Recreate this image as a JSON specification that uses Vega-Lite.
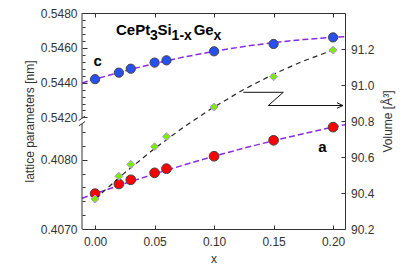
{
  "$schema": "https://vega.github.io/schema/vega-lite/v6.json",
  "width": 263,
  "height": 216,
  "autosize": {"type": "none"},
  "padding": {"left": 82, "top": 13, "right": 64, "bottom": 44},
  "background": "white",
  "config": {
    "view": {"stroke": null},
    "font": "Liberation Sans",
    "axis": {
      "labelFont": "Liberation Sans",
      "titleFont": "Liberation Sans",
      "labelFontSize": 12,
      "titleFontSize": 12,
      "labelColor": "#333",
      "titleColor": "#333",
      "titleFontWeight": "normal",
      "domainColor": "#333",
      "tickColor": "#333",
      "grid": false
    }
  },
  "datasets": {
    "pts": [
      {"x": 0.0, "c": 0.5442, "a": 0.40751, "v": 90.367},
      {"x": 0.02, "c": 0.54457, "a": 0.40765, "v": 90.493},
      {"x": 0.03, "c": 0.5448, "a": 0.40771, "v": 90.559},
      {"x": 0.05, "c": 0.54515, "a": 0.40781, "v": 90.657},
      {"x": 0.06, "c": 0.54528, "a": 0.40787, "v": 90.713},
      {"x": 0.1, "c": 0.5458, "a": 0.40805, "v": 90.878},
      {"x": 0.15, "c": 0.54622, "a": 0.40828, "v": 91.046},
      {"x": 0.2, "c": 0.5466, "a": 0.40847, "v": 91.194}
    ],
    "fit": [
      {"x": -0.011, "cf": 0.543975, "af": 0.407443, "vf": null},
      {"x": 0.0, "cf": 0.5442, "af": 0.40751, "vf": 90.367},
      {"x": 0.025, "cf": 0.544675, "af": 0.407656, "vf": 90.513},
      {"x": 0.05, "cf": 0.5451, "af": 0.407795, "vf": 90.647},
      {"x": 0.075, "cf": 0.545475, "af": 0.407926, "vf": 90.7685},
      {"x": 0.1, "cf": 0.5458, "af": 0.40805, "vf": 90.878},
      {"x": 0.125, "cf": 0.546075, "af": 0.408166, "vf": 90.9753},
      {"x": 0.15, "cf": 0.5463, "af": 0.408275, "vf": 91.0604},
      {"x": 0.175, "cf": 0.546475, "af": 0.408376, "vf": 91.1333},
      {"x": 0.2, "cf": 0.5466, "af": 0.40847, "vf": 91.194},
      {"x": 0.21, "cf": 0.546636, "af": 0.408505, "vf": null}
    ],
    "arrow": [
      {"x": 0.12455, "v": 90.9595, "o": 1},
      {"x": 0.15816, "v": 90.9595, "o": 2},
      {"x": 0.14555, "v": 90.886, "o": 3},
      {"x": 0.20833, "v": 90.886, "o": 4}
    ],
    "titleMain": [
      {"x": 0.0176, "v": 91.278, "t": "CePt"},
      {"x": 0.0525, "v": 91.278, "t": "Si"},
      {"x": 0.0828, "v": 91.278, "t": "Ge"}
    ],
    "titleSub": [
      {"x": 0.0462, "v": 91.25, "t": "3"},
      {"x": 0.0643, "v": 91.25, "t": "1-x"},
      {"x": 0.0996, "v": 91.25, "t": "x"}
    ]
  },
  "resolve": {
    "scale": {"y": "independent"},
    "axis": {"x": "independent", "y": "independent"}
  },
  "layer": [
    {
      "resolve": {"axis": {"y": "independent"}},
      "layer": [
        {
          "data": {"name": "fit"},
          "mark": {"type": "line", "color": "#8a2be2", "strokeDash": [6, 3], "strokeWidth": 1.5},
          "encoding": {
            "x": {
              "field": "x", "type": "quantitative",
              "scale": {"domain": [-0.011, 0.21], "nice": false, "zero": false},
              "axis": {
                "orient": "bottom", "values": [0, 0.05, 0.1, 0.15, 0.2], "format": ".2f",
                "tickSize": -4, "labelPadding": 11, "title": "x", "titlePadding": 6
              }
            },
            "y": {
              "field": "cf", "type": "quantitative",
              "scale": {"domain": [0.53559, 0.548], "nice": false, "zero": false},
              "axis": {
                "orient": "left",
                "values": [0.542, 0.544, 0.546, 0.548],
                "format": ".4f",
                "tickSize": -5,
                "domain": false,
                "labelPadding": 10,
                "title": "lattice parameters [nm]",
                "titlePadding": 4
              }
            }
          }
        },
        {
          "data": {"name": "pts"},
          "mark": {"type": "point", "shape": "circle", "filled": true, "fill": "#2850f0", "stroke": "#444", "strokeWidth": 1, "size": 85, "opacity": 1},
          "encoding": {
            "x": {"field": "x", "type": "quantitative"},
            "y": {
              "field": "c", "type": "quantitative",
              "axis": {
                "orient": "left",
                "values": [0.5424, 0.5428, 0.5432, 0.5436, 0.5444, 0.5448, 0.5452, 0.5456, 0.5464, 0.5468, 0.5472, 0.5476],
                "labels": false,
                "tickSize": -3,
                "domain": false,
                "title": null
              }
            }
          }
        },
        {
          "data": {"values": [{"x": -0.011, "lo": 0.54195, "hi": 0.548}]},
          "mark": {"type": "rule", "color": "#333", "strokeWidth": 1},
          "encoding": {
            "x": {"field": "x", "type": "quantitative"},
            "y": {"field": "lo", "type": "quantitative", "axis": null},
            "y2": {"field": "hi"}
          }
        },
        {
          "data": {"values": [{"x": -0.011, "c": 0.54195}]},
          "mark": {"type": "point", "shape": "M-1,0.7L1,-0.7", "filled": false, "stroke": "#333", "strokeWidth": 1, "size": 40, "opacity": 1},
          "encoding": {
            "x": {"field": "x", "type": "quantitative"},
            "y": {"field": "c", "type": "quantitative", "axis": null}
          }
        },
        {
          "data": {"values": [{"x": 0.0022, "c": 0.54524, "t": "c"}]},
          "mark": {"type": "text", "font": "Liberation Sans", "fontWeight": "bold", "fontSize": 15, "align": "center", "baseline": "middle", "color": "black"},
          "encoding": {
            "x": {"field": "x", "type": "quantitative"},
            "y": {"field": "c", "type": "quantitative", "axis": null},
            "text": {"field": "t"}
          }
        }
      ]
    },
    {
      "resolve": {"axis": {"y": "independent"}},
      "layer": [
        {
          "data": {"name": "fit"},
          "mark": {"type": "line", "color": "#8a2be2", "strokeDash": [6, 3], "strokeWidth": 1.5},
          "encoding": {
            "x": {
              "field": "x", "type": "quantitative",
              "scale": {"domain": [-0.011, 0.21], "nice": false, "zero": false},
              "axis": {"orient": "top", "values": [0, 0.05, 0.1, 0.15, 0.2], "labels": false, "tickSize": -4, "title": null}
            },
            "y": {
              "field": "af", "type": "quantitative",
              "scale": {"domain": [0.407, 0.410117], "nice": false, "zero": false},
              "axis": {
                "orient": "left",
                "values": [0.407, 0.408],
                "format": ".4f",
                "tickSize": -5,
                "domain": false,
                "labelPadding": 10,
                "title": null
              }
            }
          }
        },
        {
          "data": {"name": "pts"},
          "mark": {"type": "point", "shape": "circle", "filled": true, "fill": "#ff0000", "stroke": "#444", "strokeWidth": 1, "size": 95, "opacity": 1},
          "encoding": {
            "x": {"field": "x", "type": "quantitative"},
            "y": {
              "field": "a", "type": "quantitative",
              "axis": {
                "orient": "left",
                "values": [0.4072, 0.4074, 0.4076, 0.4078, 0.4082, 0.4084],
                "labels": false,
                "tickSize": -3,
                "domain": false,
                "title": null
              }
            }
          }
        },
        {
          "data": {"values": [{"x": -0.011, "lo": 0.407, "hi": 0.40852}]},
          "mark": {"type": "rule", "color": "#333", "strokeWidth": 1},
          "encoding": {
            "x": {"field": "x", "type": "quantitative"},
            "y": {"field": "lo", "type": "quantitative", "axis": null},
            "y2": {"field": "hi"}
          }
        },
        {
          "data": {"values": [{"x": -0.011, "a": 0.40852}]},
          "mark": {"type": "point", "shape": "M-1,0.7L1,-0.7", "filled": false, "stroke": "#333", "strokeWidth": 1, "size": 40, "opacity": 1},
          "encoding": {
            "x": {"field": "x", "type": "quantitative"},
            "y": {"field": "a", "type": "quantitative", "axis": null}
          }
        },
        {
          "data": {"values": [{"x": 0.191, "a": 0.40818, "t": "a"}]},
          "mark": {"type": "text", "font": "Liberation Sans", "fontWeight": "bold", "fontSize": 15, "align": "center", "baseline": "middle", "color": "black"},
          "encoding": {
            "x": {"field": "x", "type": "quantitative"},
            "y": {"field": "a", "type": "quantitative", "axis": null},
            "text": {"field": "t"}
          }
        }
      ]
    },
    {
      "layer": [
        {
          "data": {"name": "fit"},
          "mark": {"type": "line", "color": "#222", "strokeDash": [5, 4], "strokeWidth": 1.2},
          "encoding": {
            "x": {"field": "x", "type": "quantitative", "scale": {"domain": [-0.011, 0.21], "nice": false, "zero": false}, "axis": null},
            "y": {
              "field": "vf", "type": "quantitative",
              "scale": {"domain": [90.2, 91.4], "nice": false, "zero": false},
              "axis": {
                "orient": "right",
                "values": [90.2, 90.4, 90.6, 90.8, 91.0, 91.2],
                "format": ".1f",
                "tickSize": -4,
                "labelPadding": 9.5,
                "title": "Volume [Å³]",
                "titleAngle": 270,
                "titlePadding": 21
              }
            }
          }
        },
        {
          "data": {"name": "pts"},
          "mark": {"type": "point", "shape": "diamond", "filled": true, "fill": "#77ee00", "stroke": "#c08cff", "strokeWidth": 1, "size": 64, "opacity": 1},
          "encoding": {
            "x": {"field": "x", "type": "quantitative", "axis": null},
            "y": {"field": "v", "type": "quantitative"}
          }
        },
        {
          "data": {"name": "arrow"},
          "mark": {"type": "line", "color": "#111", "strokeWidth": 1},
          "encoding": {
            "x": {"field": "x", "type": "quantitative", "axis": null},
            "y": {"field": "v", "type": "quantitative"},
            "order": {"field": "o"}
          }
        },
        {
          "data": {"name": "arrow"},
          "transform": [{"filter": "datum.o == 4"}],
          "mark": {"type": "point", "shape": "M-2,-0.9L0,0L-2,0.9", "filled": false, "stroke": "#111", "strokeWidth": 1, "size": 36, "opacity": 1},
          "encoding": {
            "x": {"field": "x", "type": "quantitative", "axis": null},
            "y": {"field": "v", "type": "quantitative"}
          }
        },
        {
          "data": {"name": "titleMain"},
          "mark": {"type": "text", "font": "Liberation Sans", "fontWeight": "bold", "fontSize": 15, "align": "left", "baseline": "alphabetic", "color": "black"},
          "encoding": {
            "x": {"field": "x", "type": "quantitative", "axis": null},
            "y": {"field": "v", "type": "quantitative"},
            "text": {"field": "t"}
          }
        },
        {
          "data": {"name": "titleSub"},
          "mark": {"type": "text", "font": "Liberation Sans", "fontWeight": "bold", "fontSize": 14, "align": "left", "baseline": "alphabetic", "color": "black"},
          "encoding": {
            "x": {"field": "x", "type": "quantitative", "axis": null},
            "y": {"field": "v", "type": "quantitative"},
            "text": {"field": "t"}
          }
        }
      ]
    }
  ]
}
